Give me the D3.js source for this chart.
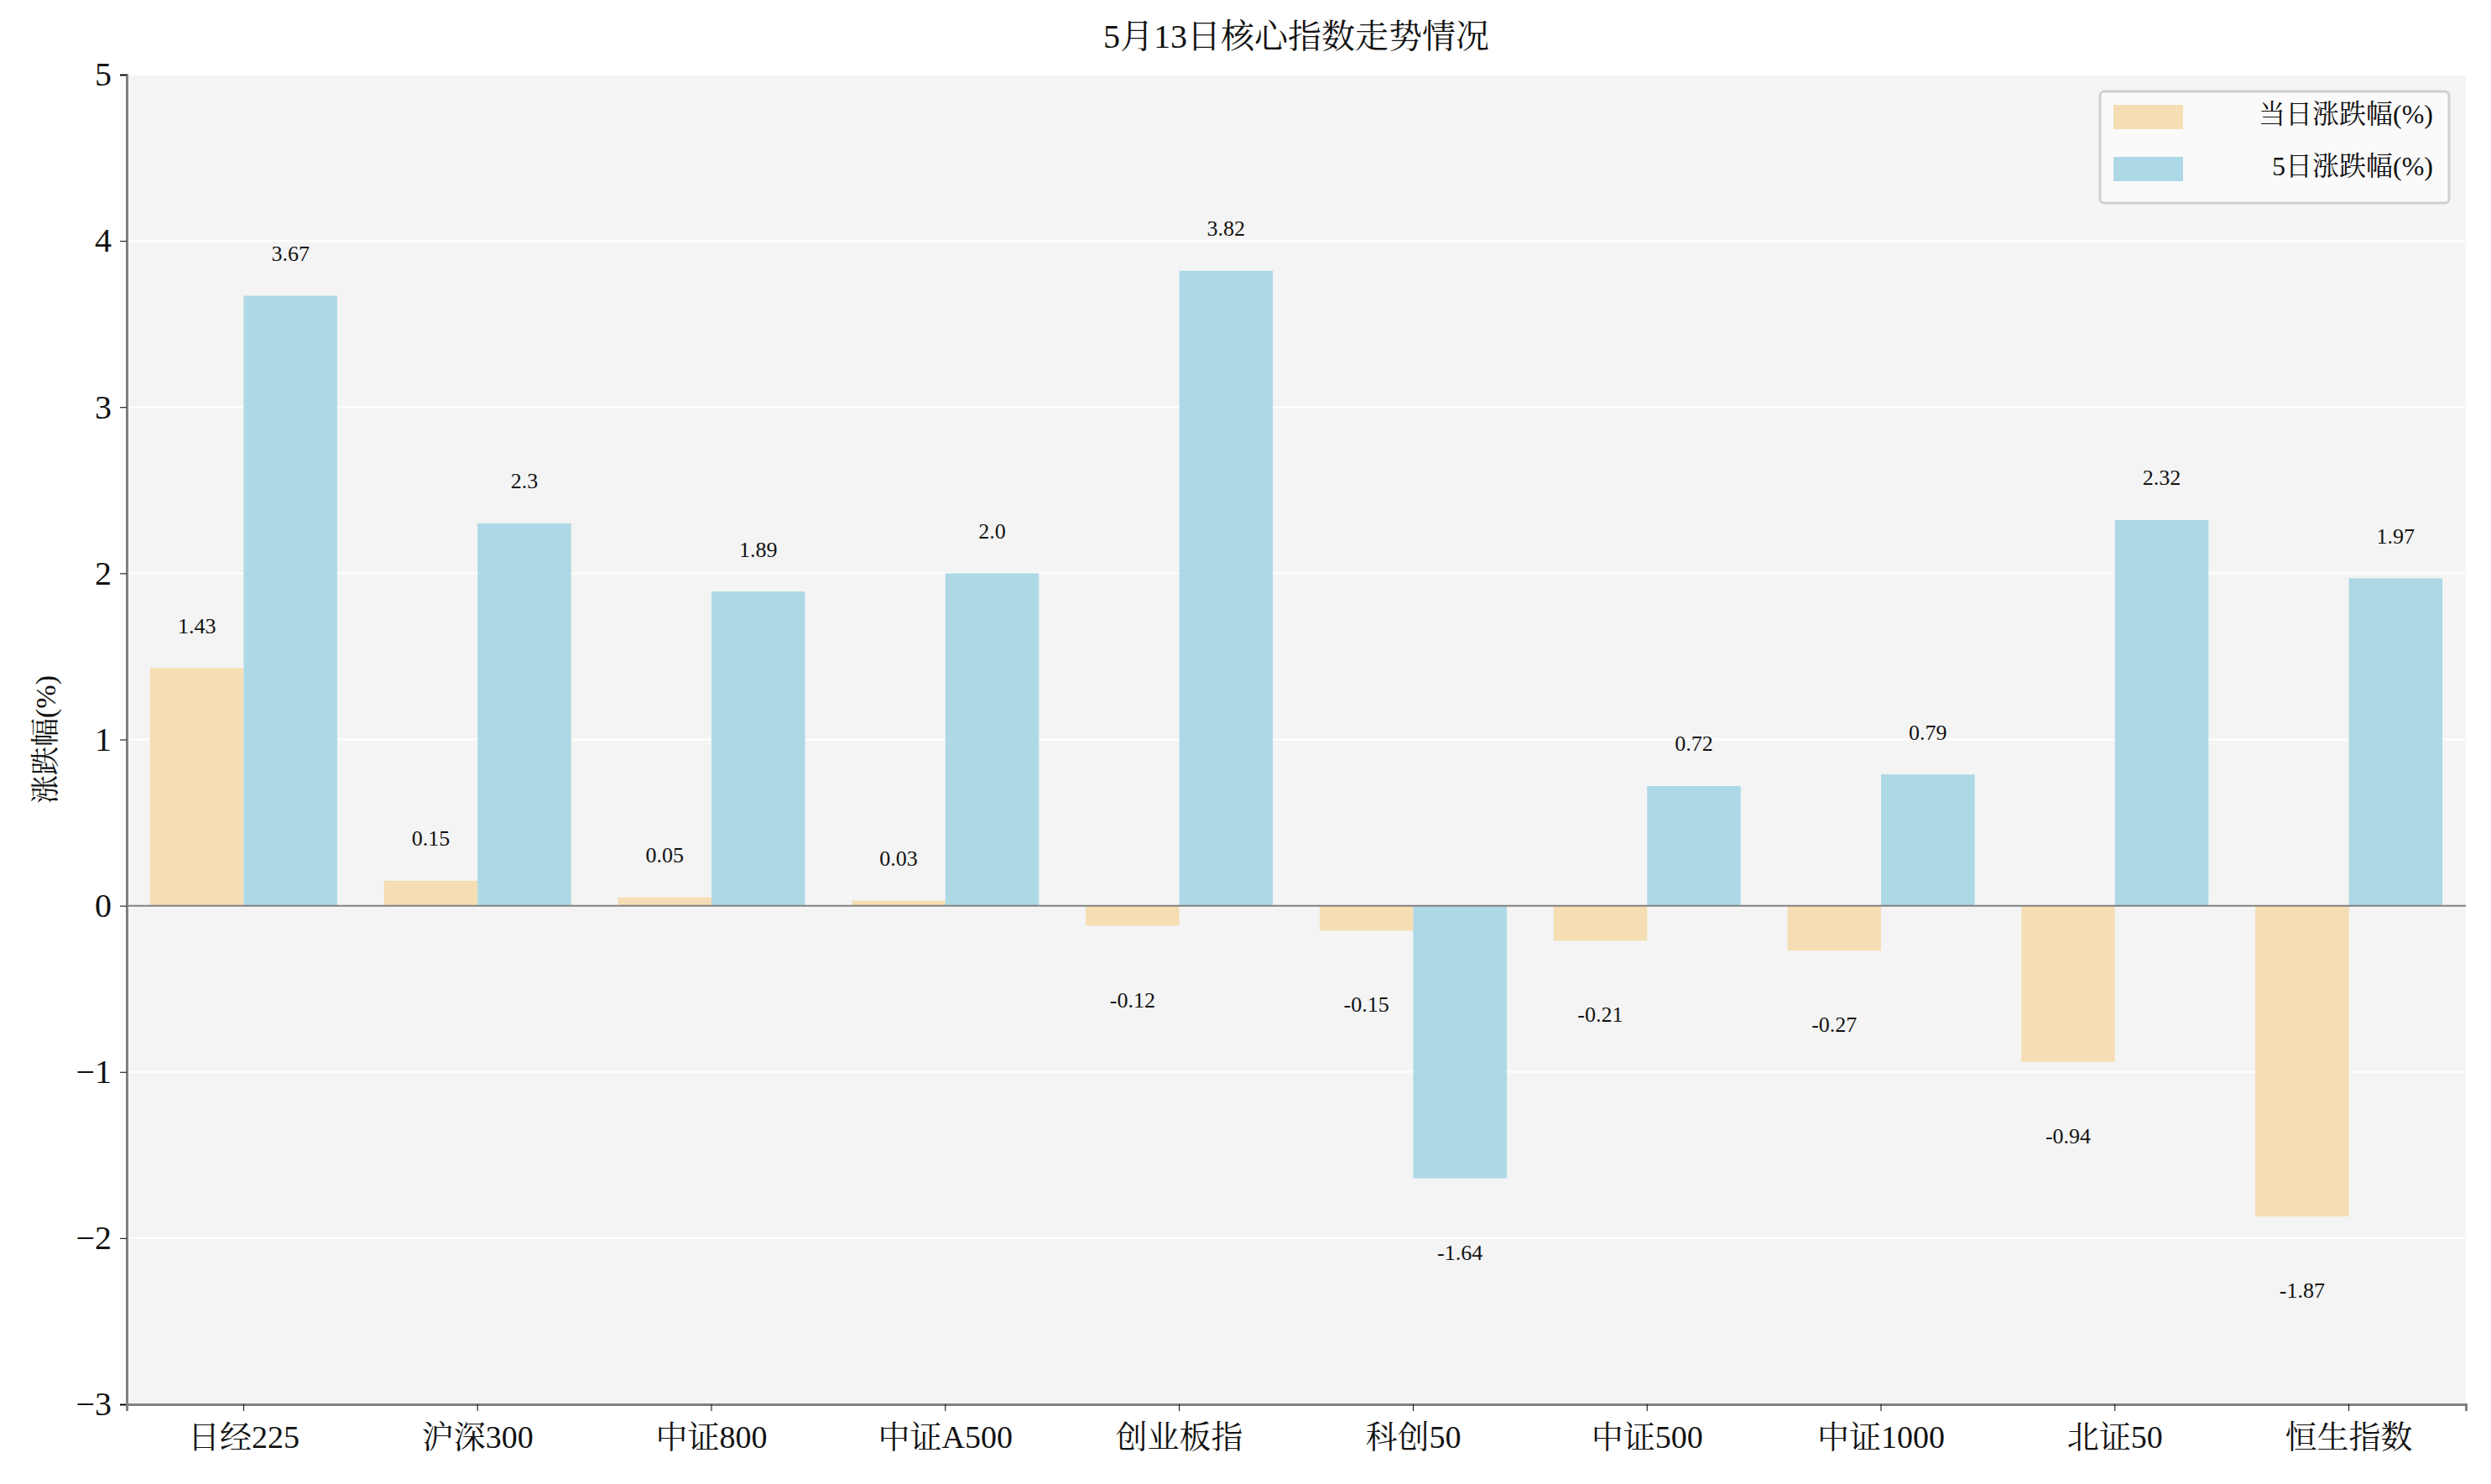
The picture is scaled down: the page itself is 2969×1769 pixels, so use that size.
<!DOCTYPE html><html><head><meta charset="utf-8"><script src="https://cdn.jsdelivr.net/npm/d3@7"></script>
<style>body{margin:0;background:#fff}text{font-family:"Liberation Serif","Noto Serif CJK SC","Noto Sans CJK SC",serif;fill:#111}</style></head><body><svg id="c" width="2969" height="1769"></svg><script>
const categories=["日经225","沪深300","中证800","中证A500","创业板指","科创50","中证500","中证1000","北证50","恒生指数"];
const daily=[1.43,0.15,0.05,0.03,-0.12,-0.15,-0.21,-0.27,-0.94,-1.87];
const fiveDay=[3.67,2.3,1.89,2.0,3.82,-1.64,0.72,0.79,2.32,1.97];
const fiveLabels=["3.67","2.3","1.89","2.0","3.82","-1.64","0.72","0.79","2.32","1.97"];
const yTicks=[-3,-2,-1,0,1,2,3,4,5];
const seriesNames=["当日涨跌幅(%)","5日涨跌幅(%)"];
const colors=["#F5DEB3","#ADD8E6"];
const m={l:151,r:2939,t:89,b:1674};
const svg=d3.select("#c");
const x=d3.scaleBand().domain(categories).range([m.l,m.r]);
const y=d3.scaleLinear().domain([-3,5]).range([m.b,m.t]);
svg.append("rect").attr("x",m.l).attr("y",m.t).attr("width",m.r-m.l).attr("height",m.b-m.t).attr("fill","#f4f4f4");
svg.append("g").selectAll("line").data(yTicks).join("line").attr("x1",m.l).attr("x2",m.r).attr("y1",d=>y(d)).attr("y2",d=>y(d)).attr("stroke","#fff").attr("stroke-width",2);
const bw=x.bandwidth()*0.4;
const series=[daily,fiveDay];
series.forEach((vals,si)=>{
  const off=si===0?-bw:0;
  const g=svg.append("g");
  g.selectAll("rect").data(vals).join("rect").attr("x",(d,i)=>x(categories[i])+x.bandwidth()/2+off).attr("width",bw)
   .attr("y",d=>y(Math.max(0,d))).attr("height",d=>Math.abs(y(d)-y(0))).attr("fill",colors[si]);
  g.selectAll("text").data(vals).join("text").attr("x",(d,i)=>x(categories[i])+x.bandwidth()/2+off+bw/2)
   .attr("y",d=>d>=0?y(d+0.24):y(d-0.46)).attr("text-anchor","middle").attr("dominant-baseline","middle").attr("font-size",26)
   .text((d,i)=>si===1?fiveLabels[i]:String(d));
});
svg.append("line").attr("x1",m.l).attr("x2",m.r).attr("y1",y(0)).attr("y2",y(0)).attr("stroke","#808080").attr("stroke-width",2);
const ya=svg.append("g").attr("transform",`translate(${m.l},0)`).call(d3.axisLeft(y).tickValues(yTicks).tickSize(8).tickPadding(10));
ya.selectAll("text").attr("font-size",40);
ya.select(".domain").attr("stroke","#808080").attr("stroke-width",3);
const xa=svg.append("g").attr("transform",`translate(0,${m.b})`).call(d3.axisBottom(x).tickSize(8).tickPadding(10));
xa.selectAll("text").attr("font-size",38).attr("dy","0.9em");
xa.select(".domain").attr("stroke","#808080").attr("stroke-width",3);
svg.append("text").attr("x",(m.l+m.r)/2).attr("y",48).attr("text-anchor","middle").attr("dominant-baseline","middle").attr("font-size",40).text("5月13日核心指数走势情况");
svg.append("text").attr("transform",`translate(58,${(m.t+m.b)/2}) rotate(-90)`).attr("text-anchor","middle").attr("dominant-baseline","middle").attr("font-size",34).text("涨跌幅(%)");
const lg=svg.append("g");
lg.append("rect").attr("x",2503).attr("y",109).attr("width",416).attr("height",133).attr("rx",5).attr("fill","#fafafa").attr("stroke","#d0d0d0").attr("stroke-width",3);
seriesNames.forEach((n,i)=>{
  lg.append("rect").attr("x",2519).attr("y",125+i*62).attr("width",83).attr("height",29).attr("fill",colors[i]);
  lg.append("text").attr("x",2900).attr("y",140+i*62).attr("text-anchor","end").attr("dominant-baseline","middle").attr("font-size",32).text(n);
});
</script></body></html>
